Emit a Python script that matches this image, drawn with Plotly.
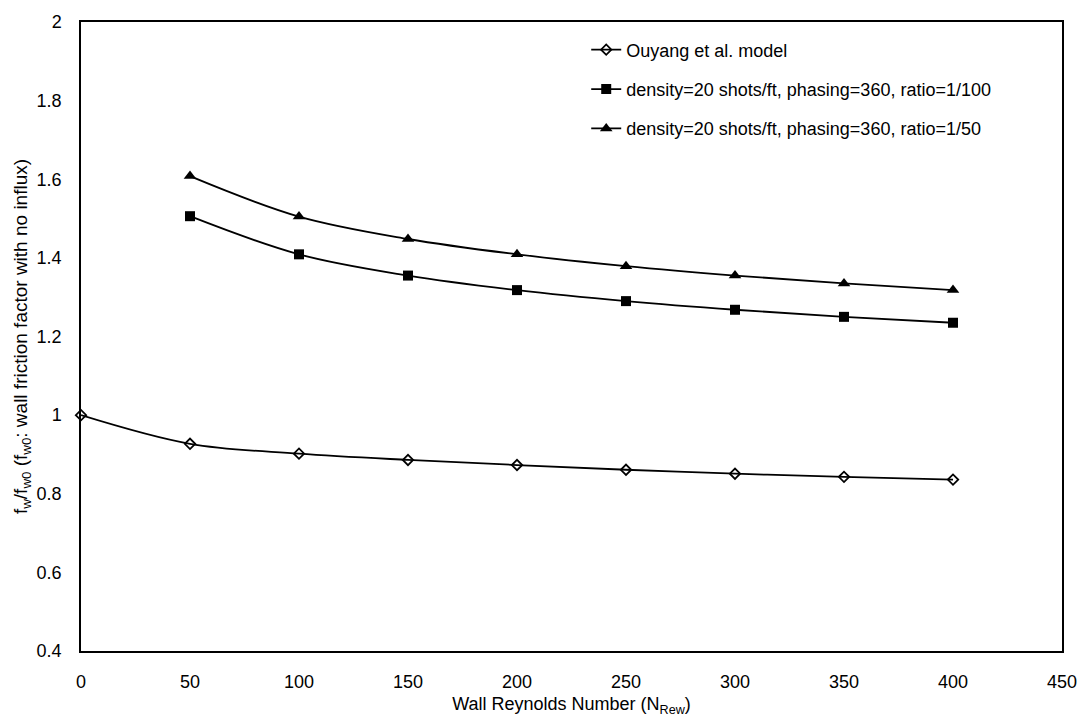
import plotly.graph_objects as go

# Wall Reynolds number values
re_ouyang = [0, 50, 100, 150, 200, 250, 300, 350, 400]
re_perf = [50, 100, 150, 200, 250, 300, 350, 400]

# Friction factor ratio f_w / f_w0
ratio_ouyang = [1.0, 0.927, 0.902, 0.886, 0.873, 0.861, 0.851, 0.843, 0.836]
ratio_100 = [1.506, 1.409, 1.355, 1.318, 1.290, 1.268, 1.250, 1.235]
ratio_50 = [1.608, 1.505, 1.448, 1.409, 1.379, 1.355, 1.335, 1.318]

series_names = [
    "Ouyang et al. model",
    "density=20 shots/ft, phasing=360, ratio=1/100",
    "density=20 shots/ft, phasing=360, ratio=1/50",
]

FONT = "Liberation Sans, Arial, sans-serif"

fig = go.Figure()

fig.add_trace(go.Scatter(
    x=re_ouyang, y=ratio_ouyang, name=series_names[0], legendgroup="a",
    mode="lines+markers", cliponaxis=False,
    line=dict(color="black", width=1.8, shape="spline"),
    marker=dict(symbol="diamond-open", size=8, color="black", line=dict(width=1.8)),
))
fig.add_trace(go.Scatter(
    x=re_perf, y=ratio_100, name=series_names[1], legendgroup="b",
    mode="lines+markers", cliponaxis=False,
    line=dict(color="black", width=1.8, shape="spline"),
    marker=dict(symbol="square", size=10, color="black"),
))
fig.add_trace(go.Scatter(
    x=re_perf, y=ratio_50, name=series_names[2], legendgroup="c",
    mode="lines+markers", cliponaxis=False,
    line=dict(color="black", width=1.8, shape="spline"),
    marker=dict(symbol="triangle-up", size=11, color="black"),
))

fig.update_layout(
    width=1089, height=724,
    margin=dict(l=81, r=21, t=17, b=73),
    paper_bgcolor="white", plot_bgcolor="white",
    font=dict(family=FONT, size=18, color="black"),
    showlegend=True,
    legend=dict(
        x=0.515, y=0.985, xanchor="left", yanchor="top",
        bgcolor="rgba(0,0,0,0)", font=dict(size=18, color="black"),
        tracegroupgap=13, itemwidth=30,
    ),
    xaxis=dict(
        range=[0, 450], dtick=50, tick0=0,
        showgrid=False, zeroline=False,
        showline=True, linecolor="black", linewidth=1.5, mirror=True,
        ticks="outside", ticklen=14, tickcolor="rgba(0,0,0,0)",
        tickfont=dict(size=18),
        title=dict(text="Wall Reynolds Number (N<sub>Rew</sub>)",
                   font=dict(size=18), standoff=6),
    ),
    yaxis=dict(
        range=[0.4, 2.0], dtick=0.2, tick0=0.4,
        showgrid=False, zeroline=False,
        showline=True, linecolor="black", linewidth=1.5, mirror=True,
        ticks="outside", ticklen=14, tickcolor="rgba(0,0,0,0)",
        tickfont=dict(size=18),
        title=dict(text="f<sub>w</sub>/f<sub>w0</sub> (f<sub>w0</sub>: wall friction factor with no influx)",
                   font=dict(size=19), standoff=4),
    ),
)

fig.write_html("out.html")
